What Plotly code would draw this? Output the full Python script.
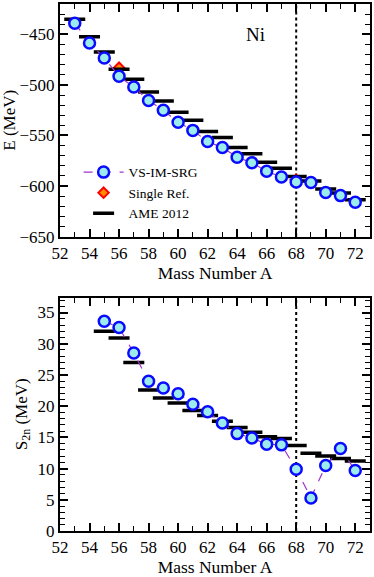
import plotly.graph_objects as go

# ground-state energies (top panel)
mass_e = list(range(53, 73))
e_imsrg = [-439, -458.5, -473.5, -491.5, -502, -515.5, -525, -537, -545, -556,
           -562, -571.5, -577, -585.5, -591, -596, -596.5, -606.5, -609.5, -616]
e_ame = [-435, -452.5, -467.5, -484.5, -494.5, -507, -516, -527, -535, -546,
         -552, -562, -568, -576.5, -582.5, -590.5, -595, -603, -607, -613.5]
mass_single = [56, 68]
e_single = [-483, -594]

# two-neutron separation energies (bottom panel)
mass_s = list(range(55, 73))
s2n_imsrg = [33.6, 32.6, 28.5, 24.0, 22.9, 22.0, 20.3, 19.1, 17.3, 15.6,
             14.9, 13.9, 13.8, 9.9, 5.3, 10.5, 13.2, 9.7]
s2n_ame = [32.0, 30.9, 27.0, 22.6, 21.3, 20.5, 19.3, 18.5, 17.6, 16.6,
           15.8, 15.1, 14.8, 13.7, 12.45, 12.0, 11.6, 11.2]

shell_closure = 68

FONT = "Liberation Serif, Times New Roman, serif"
circle = dict(symbol="circle", size=11, color="#9cecee",
              line=dict(color="#0a0aff", width=2.5))
dash_line = dict(color="#a033d0", width=1.2, dash="dash")
bar = dict(symbol="line-ew", size=15, line=dict(color="black", width=3.5))

fig = go.Figure()

fig.add_trace(go.Scatter(x=mass_single, y=e_single, mode="markers", name="Single Ref.",
                         marker=dict(symbol="diamond", size=8, color="#ff8c00",
                                     line=dict(color="#ff0000", width=2)),
                         legendrank=2, xaxis="x", yaxis="y"))
fig.add_trace(go.Scatter(x=mass_e, y=e_ame, mode="markers", name="AME 2012",
                         marker=bar, legendrank=3, xaxis="x", yaxis="y"))
fig.add_trace(go.Scatter(x=mass_e, y=e_imsrg, mode="lines+markers", name="VS-IM-SRG",
                         marker=circle, line=dash_line, legendrank=1,
                         xaxis="x", yaxis="y"))

fig.add_trace(go.Scatter(x=mass_s, y=s2n_ame, mode="markers", showlegend=False,
                         marker=bar, xaxis="x2", yaxis="y2"))
fig.add_trace(go.Scatter(x=mass_s, y=s2n_imsrg, mode="lines+markers", showlegend=False,
                         marker=circle, line=dash_line, xaxis="x2", yaxis="y2"))

for xa, ya in (("x", "y"), ("x2", "y2")):
    fig.add_shape(type="line", xref=xa, yref=ya + " domain",
                  x0=shell_closure, x1=shell_closure, y0=0, y1=1,
                  line=dict(color="black", width=2, dash="dot"), layer="below")

axis_common = dict(showline=True, linecolor="black", linewidth=2, mirror="allticks",
                   ticks="inside", ticklen=8, tickwidth=1.5, tickcolor="black",
                   showgrid=False, zeroline=False,
                   tickfont=dict(family=FONT, size=17, color="black"))

x_common = dict(axis_common, range=[52, 73], dtick=2, tick0=52,
                minor=dict(ticks="inside", dtick=1, ticklen=5, tickwidth=1.2, tickcolor="black"),
                title=dict(text="Mass Number A", font=dict(family=FONT, size=17.5, color="black"),
                           standoff=0))

fig.update_layout(
    width=374, height=577,
    margin=dict(l=60, r=2, t=3, b=46),
    plot_bgcolor="white", paper_bgcolor="white",
    font=dict(family=FONT, color="black"),
    xaxis=dict(x_common, anchor="y"),
    yaxis=dict(axis_common, domain=[0.5587, 1], range=[-650, -420], dtick=50,
               minor=dict(ticks="inside", dtick=10, ticklen=5, tickwidth=1.2, tickcolor="black"),
               title=dict(text="E (MeV)", font=dict(family=FONT, size=17, color="black"),
                          standoff=2)),
    xaxis2=dict(x_common, anchor="y2"),
    yaxis2=dict(axis_common, domain=[0, 0.443], range=[0, 37.4], dtick=5,
                minor=dict(ticks="inside", dtick=1, ticklen=5, tickwidth=1.2, tickcolor="black"),
                title=dict(text="S<sub>2n</sub> (MeV)",
                           font=dict(family=FONT, size=17, color="black"), standoff=6)),
    legend=dict(x=0.06, y=0.710, xanchor="left", yanchor="top",
                bgcolor="rgba(0,0,0,0)", font=dict(family=FONT, size=13.5, color="black"),
                itemwidth=40, tracegroupgap=0),
    showlegend=True,
    annotations=[dict(text="Ni", x=0.63, y=0.965, xref="paper", yref="paper",
                      showarrow=False, font=dict(family=FONT, size=19, color="black"))],
)

fig.write_html("out.html", config={"displayModeBar": False},
               post_script="document.body.style.margin='0';")
